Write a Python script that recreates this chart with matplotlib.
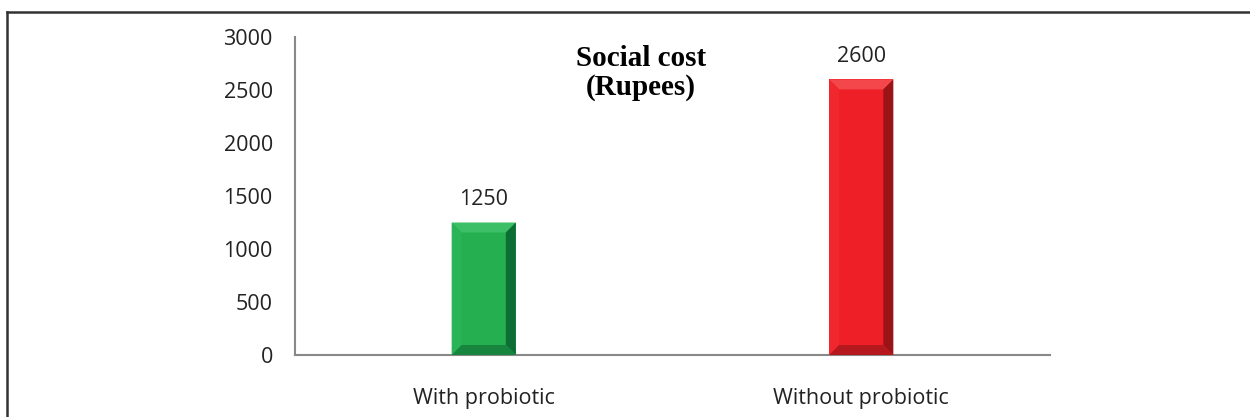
import matplotlib.pyplot as plt
from matplotlib.patches import Polygon
from matplotlib.lines import Line2D
from matplotlib.transforms import IdentityTransform

categories = ['With probiotic', 'Without probiotic']
social_cost = [1250, 2600]
yticks = [0, 500, 1000, 1500, 2000, 2500, 3000]

# face, top, left, right, bottom shades per bar
shades = [
    ('#25AF50', '#3CBF66', '#2BB457', '#0C6E35', '#17853E'),
    ('#EE1F26', '#F4474C', '#F0282E', '#9A1317', '#B5181D'),
]

W, H, DPI = 12.5, 4.17, 100
fig = plt.figure(figsize=(W, H), dpi=DPI)
ax = fig.add_axes([295 / 1250, 1 - 355 / 417, 755 / 1250, 318 / 417])

x = range(len(categories))
bars = ax.bar(x, social_cost, width=0.17, color=[s[0] for s in shades], zorder=2)
ax.set_xlim(-0.5, 1.5)
ax.set_ylim(0, 3000)
ax.set_yticks(yticks)
ax.set_xticks(list(x))
ax.set_xticklabels(categories)

font = 'Open Sans'
fs = 15.5
for lab in ax.get_yticklabels() + ax.get_xticklabels():
    lab.set_fontfamily(font)
    lab.set_fontsize(fs)
    lab.set_color('#222222')
ax.tick_params(axis='y', length=0, pad=16)
ax.tick_params(axis='x', length=0, pad=24)

for s in ['top', 'right']:
    ax.spines[s].set_visible(False)
for s in ['left', 'bottom']:
    ax.spines[s].set_color('#888888')
    ax.spines[s].set_linewidth(1.5)

for b, v in zip(bars, social_cost):
    ax.annotate(str(v), (b.get_x() + b.get_width() / 2, v), xytext=(0, 9),
                textcoords='offset points', ha='center', va='bottom',
                fontfamily=font, fontsize=fs, color='#222222')

ax.text(0.458, 0.975, 'Social cost\n(Rupees)', transform=ax.transAxes,
        ha='center', va='top', fontfamily='Liberation Serif',
        fontweight='bold', fontsize=21, linespacing=1.1)

# bevelled edges on each bar, built from the bar's pixel extent
fig.canvas.draw()
bev = 10
for b, sh in zip(bars, shades):
    (x0, y0), (x1, y1) = ax.transData.transform(
        [(b.get_x(), 0), (b.get_x() + b.get_width(), b.get_height())])
    ix0, iy0, ix1, iy1 = x0 + bev, y0 + bev, x1 - bev, y1 - bev
    polys = [
        ([(x0, y1), (x1, y1), (ix1, iy1), (ix0, iy1)], sh[1]),
        ([(x0, y0), (x0, y1), (ix0, iy1), (ix0, iy0)], sh[2]),
        ([(x1, y0), (x1, y1), (ix1, iy1), (ix1, iy0)], sh[3]),
        ([(x0, y0), (x1, y0), (ix1, iy0), (ix0, iy0)], sh[4]),
    ]
    for pts, c in polys:
        fig.patches.append(Polygon(pts, closed=True, facecolor=c, edgecolor='none',
                                   transform=IdentityTransform(), figure=fig, zorder=3))

# outer frame (top and left edges)
fig.add_artist(Line2D([7 / 1250, 1.0], [1 - 12 / 417] * 2, color='#333333', lw=1.8))
fig.add_artist(Line2D([7 / 1250] * 2, [0, 1 - 12 / 417], color='#333333', lw=1.8))

fig.savefig('out.png', dpi=DPI)
